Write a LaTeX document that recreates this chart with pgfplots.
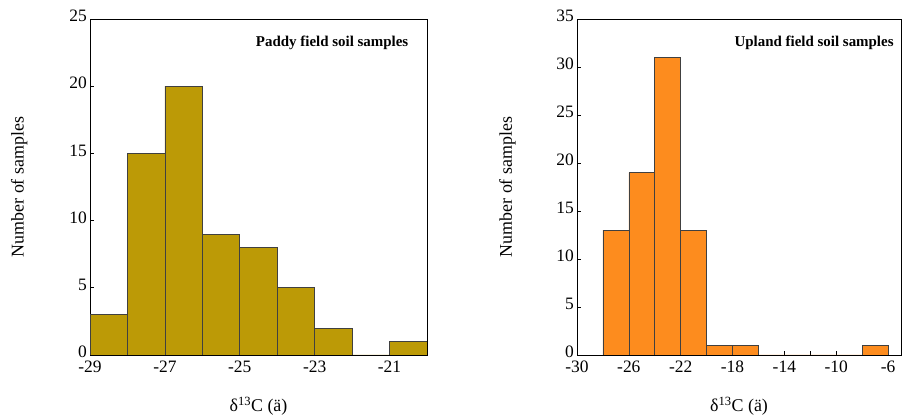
\documentclass[border=0pt]{standalone}
\usepackage{fontspec}
\setmainfont{Liberation Serif}
\usepackage{pgfplots}
\pgfplotsset{compat=1.18}

\definecolor{paddy}{RGB}{188,154,6}
\definecolor{upland}{RGB}{253,140,30}

\pgfplotsset{
  histo/.style={
    scale only axis,
    anchor=south west,
    height=336bp,
    ymin=0,
    axis line style={line width=0.9bp},
    tick style={black, line width=0.8bp},
    major tick length=4bp,
    minor tick length=4bp,
    xtick pos=bottom, ytick pos=left,
    ytick distance=5,
    tick label style={font=\fontsize{17.5}{17.5}\selectfont, inner sep=1bp},
    /pgf/number format/assume math mode=true,
    xticklabel style={yshift=-5bp},
    yticklabel style={xshift=-2bp, yshift=3bp},
    label style={font=\fontsize{18}{18}\selectfont},
    ylabel={Number of samples},
    xlabel={δ\textsuperscript{13}C (ä)},
    xlabel style={at={(axis description cs:0.5,0)}, anchor=center, yshift=-51bp},
  },
}

\begin{document}
\begin{tikzpicture}
\path[use as bounding box] (0,0) rectangle (902bp,415bp);

\begin{axis}[histo,
  at={(90bp,60bp)}, width=337bp,
  xmin=-29, xmax=-20, ymax=25,
  xtick={-29,-27,-25,-23,-21},
  minor xtick={-28,-26,-24,-22,-20},
  ylabel style={at={(axis description cs:-0.21,0.5)}, anchor=center},
]
\addplot[ybar interval, fill=paddy, draw=black!75, line width=0.6bp]
  coordinates {(-29,3) (-28,15) (-27,20) (-26,9) (-25,8) (-24,5) (-23,2) (-22,0) (-21,1) (-20,1)};
\node[anchor=east, font=\bfseries\fontsize{15}{15}\selectfont] at (rel axis cs:0.955,0.929) {Paddy field soil samples};
\end{axis}

\begin{axis}[histo,
  at={(577bp,60bp)}, width=324bp,
  xmin=-30, xmax=-5, ymax=35,
  xtick={-30,-26,...,-6},
  minor xtick={-28,-24,...,-8},
  ylabel style={at={(axis description cs:-0.215,0.5)}, anchor=center},
]
\addplot[ybar interval, fill=upland, draw=black!75, line width=0.6bp]
  coordinates {(-28,13) (-26,19) (-24,31) (-22,13) (-20,1) (-18,1) (-16,0) (-14,0) (-12,0) (-10,0) (-8,1) (-6,1)};
\node[anchor=east, font=\bfseries\fontsize{15}{15}\selectfont] at (rel axis cs:0.988,0.929) {Upland field soil samples};
\end{axis}
\end{tikzpicture}
\end{document}
